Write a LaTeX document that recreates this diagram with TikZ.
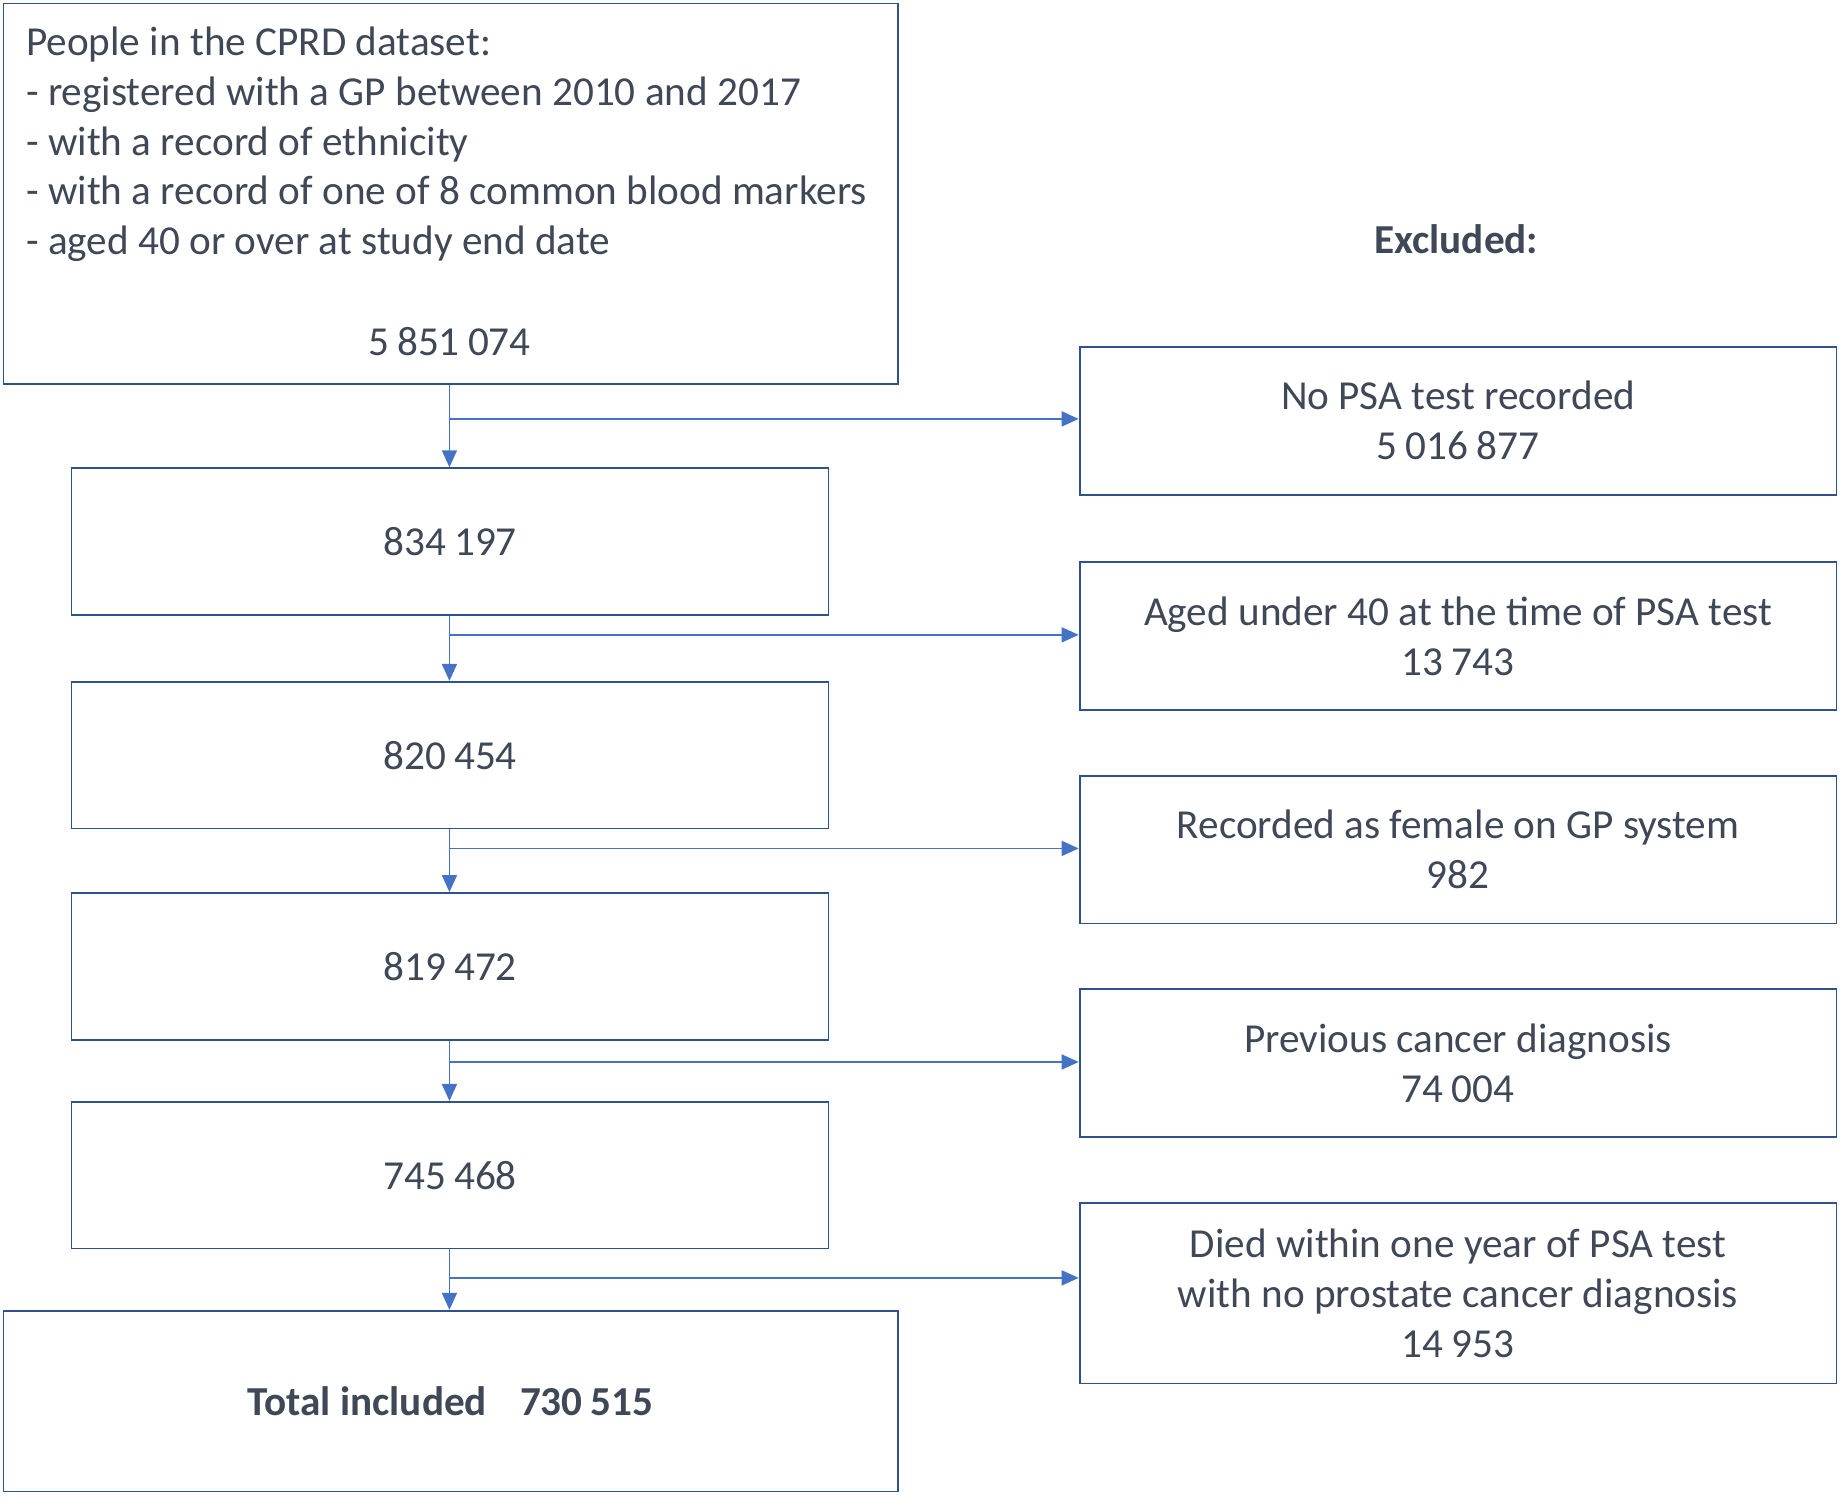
\documentclass[tikz,border=0pt]{standalone}
\usepackage{fontspec}
\setmainfont{Carlito}
\usetikzlibrary{arrows.meta}
\newdimen\px \px=0.5867pt
\newcommand{\ns}{\hspace{0.2em}}
\definecolor{boxline}{RGB}{47,82,143}
\definecolor{arrowc}{RGB}{68,114,196}
\definecolor{txt}{RGB}{62,72,86}
\begin{document}
\begin{tikzpicture}[x=0.5867pt,y=-0.5867pt,
  box/.style={draw=boxline,line width=0.9pt,rectangle,inner sep=0pt,
    text=txt,align=center,font=\fontsize{20.6}{24.93}\selectfont},
  lbox/.style={box,minimum width=645\px,minimum height=125\px},
  rbox/.style={box,minimum width=645\px,minimum height=126\px},
  txtnode/.style={inner sep=0pt,text=txt,font=\fontsize{20.6}{24.93}\selectfont},
  arr/.style={draw=arrowc,line width=0.85pt,-{Triangle[length=8.5pt,width=7.5pt]}}]
\useasboundingbox (0,0) rectangle (1568,1276);
% top box
\node[box,minimum width=762\px,minimum height=324\px] (top) at (384,165) {};
\node[txtnode,align=left,anchor=west] (toptext) at (22,123)
  {People in the CPRD dataset:\\
   - registered with a GP between 2010 and 2017\\
   - with a record of ethnicity\\
   - with a record of one of 8 common blood markers\\
   - aged 40 or over at study end date};
\node[txtnode] (topnum) at (383,291) {5\ns851\ns074};
% excluded header
\node[txtnode,font=\fontsize{20.6}{24.93}\selectfont\bfseries] (exhead) at (1241,204) {Excluded:};
% left boxes
\node[lbox] (b1) at (383.5,461.5) {834\ns197};
\node[lbox] (b2) at (383.5,643.5) {820\ns454};
\node[lbox] (b3) at (383.5,823.5) {819\ns472};
\node[lbox] (b4) at (383.5,1001.5) {745\ns468};
\node[box,minimum width=762\px,minimum height=154\px,font=\fontsize{20.6}{24.93}\selectfont\bfseries] (total) at (384,1194)
  {Total included\hspace{0.8em}730\ns515};
% right boxes
\node[rbox] (e1) at (1242.5,358.5) {No PSA test recorded\\5\ns016\ns877};
\node[rbox] (e2) at (1242.5,542) {Aged under 40 at the time of PSA test\\13\ns743};
\node[rbox] (e3) at (1242.5,724) {Recorded as female on GP system\\982};
\node[rbox] (e4) at (1242.5,906) {Previous cancer diagnosis\\74\ns004};
\node[box,minimum width=645\px,minimum height=154\px] (e5) at (1242.5,1102)
  {Died within one year of PSA test\\with no prostate cancer diagnosis\\14\ns953};
% junctions
\coordinate (j1) at (383,357);
\coordinate (j2) at (383,541);
\coordinate (j3) at (383,723);
\coordinate (j4) at (383,905);
\coordinate (j5) at (383,1089);
% vertical arrows
\draw[arr] (j1 |- top.south) -- (j1 |- b1.north);
\draw[arr] (j2 |- b1.south) -- (j2 |- b2.north);
\draw[arr] (j3 |- b2.south) -- (j3 |- b3.north);
\draw[arr] (j4 |- b3.south) -- (j4 |- b4.north);
\draw[arr] (j5 |- b4.south) -- (j5 |- total.north);
% horizontal arrows
\draw[arr] (j1) -- (j1 -| e1.west);
\draw[arr] (j2) -- (j2 -| e2.west);
\draw[arr] (j3) -- (j3 -| e3.west);
\draw[arr] (j4) -- (j4 -| e4.west);
\draw[arr] (j5) -- (j5 -| e5.west);
\end{tikzpicture}
\end{document}
